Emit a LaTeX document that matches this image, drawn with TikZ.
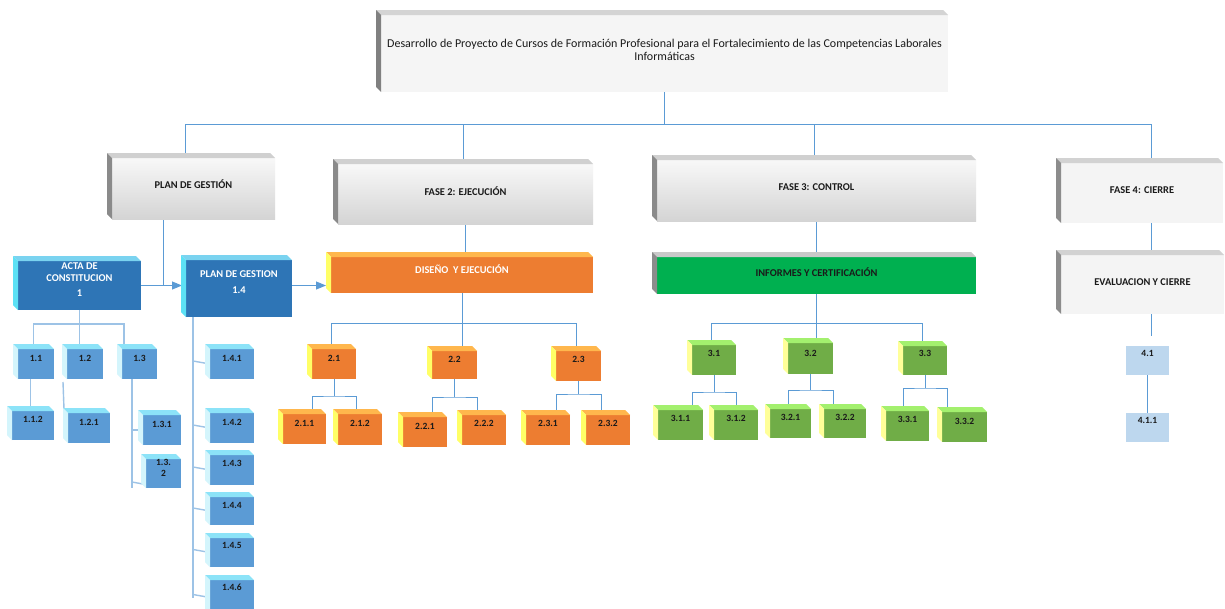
\documentclass[tikz,border=0pt]{standalone}
\usepackage{fontspec}
\setmainfont{Carlito}
\usetikzlibrary{arrows.meta,calc}
\pgfdeclarelayer{background}
\pgfsetlayers{background,main}
\definecolor{cline}{HTML}{5B9BD5}
\definecolor{lline}{HTML}{9DC3E6}
\definecolor{txt}{HTML}{1A1A1A}
\tikzset{
  cubebase/.style={rectangle,inner sep=0pt,outer sep=0pt,draw=none},
  conn/.style={draw=cline,line width=0.9pt},
  lconn/.style={draw=lline,line width=1.4pt},
  arr/.style={-{Triangle[length=10pt,width=8pt]}},
  bigfont/.style={font=\fontsize{10.4}{11.5}\selectfont\bfseries,align=center},
  smallfont/.style={font=\fontsize{9.5}{11}\selectfont\bfseries,align=center,text=txt},
  root front/.style={fill={rgb,255:red,245;green,245;blue,245}},
  root top/.style={fill={rgb,255:red,212;green,212;blue,212}},
  root side/.style={fill={rgb,255:red,128;green,128;blue,128}},
  root text/.style={font=\fontsize{12}{13}\selectfont,align=center,text=txt},
  gray front/.style={top color={rgb,255:red,248;green,248;blue,248},bottom color={rgb,255:red,212;green,212;blue,212}},
  gray top/.style={fill={rgb,255:red,208;green,208;blue,208}},
  gray side/.style={fill={rgb,255:red,138;green,138;blue,138}},
  gray text/.style={bigfont,text=txt},
  flat front/.style={fill={rgb,255:red,244;green,244;blue,244}},
  flat top/.style={fill={rgb,255:red,210;green,210;blue,210}},
  flat side/.style={fill={rgb,255:red,140;green,140;blue,140}},
  flat text/.style={bigfont,text=txt},
  bigblue front/.style={fill={rgb,255:red,46;green,117;blue,182}},
  bigblue top/.style={fill={rgb,255:red,122;green,211;blue,240}},
  bigblue side/.style={fill={rgb,255:red,92;green,225;blue,245}},
  bigblue text/.style={bigfont,text=white},
  blue front/.style={fill={rgb,255:red,91;green,155;blue,213}},
  blue top/.style={fill={rgb,255:red,140;green,227;blue,248}},
  blue side/.style={fill={rgb,255:red,212;green,245;blue,252}},
  blue text/.style={smallfont},
  bigorange front/.style={fill={rgb,255:red,237;green,125;blue,49}},
  bigorange top/.style={fill={rgb,255:red,255;green,183;blue,77}},
  bigorange side/.style={fill={rgb,255:red,255;green,255;blue,102}},
  bigorange text/.style={bigfont,text=white},
  orange front/.style={fill={rgb,255:red,237;green,125;blue,49}},
  orange top/.style={fill={rgb,255:red,255;green,183;blue,77}},
  orange side/.style={fill={rgb,255:red,255;green,255;blue,102}},
  orange text/.style={smallfont},
  biggreen front/.style={fill={rgb,255:red,0;green,176;blue,80}},
  biggreen top/.style={fill={rgb,255:red,201;green,201;blue,201}},
  biggreen side/.style={fill={rgb,255:red,140;green,140;blue,140}},
  biggreen text/.style={bigfont,text=txt},
  green front/.style={fill={rgb,255:red,112;green,173;blue,71}},
  green top/.style={fill={rgb,255:red,163;green,240;blue,110}},
  green side/.style={fill={rgb,255:red,255;green,255;blue,153}},
  green text/.style={smallfont},
  light box/.style={cubebase,fill={rgb,255:red,189;green,215;blue,238}},
}
\newcommand{\cubebox}[8]{%
  \node[cubebase,#6 front,minimum width={(#4-#2)*1pt},minimum height={(#5-#3)*1pt}] (#1) at ({(#2+#4)/2},{(#3+#5)/2}) {};
  \fill[#6 top] (#1.north west) -- ++(-5,-5) -- ([shift={(-5,-5)}]#1.north east) -- (#1.north east) -- cycle;
  \fill[#6 side] (#1.north west) -- ++(-5,-5) -- ([shift={(-5,-5)}]#1.south west) -- (#1.south west) -- cycle;
  \coordinate (#1-top) at ([shift={(-2.5,-5)}]#1.north);
  \node[#6 text] (#1-t) at ({(#2+#4)/2},#7) {#8};
}
\newcommand{\flatbox}[7]{%
  \node[light box,minimum width={(#4-#2)*1pt},minimum height={(#5-#3)*1pt}] (#1) at ({(#2+#4)/2},{(#3+#5)/2}) {};
  \node[smallfont] (#1-t) at ({(#2+#4)/2},#6) {#7};
}
\newcommand{\fork}[4]{%
  \draw[conn] (#1.south) -- ++(0,#4) coordinate (#1-f);
  \draw[conn] (#1.south west |- #2.north) |- (#1-f) -| (#1.south east |- #3.north);
}
\begin{document}
\begin{tikzpicture}[x=1pt,y=-1pt]
\useasboundingbox (0,0) rectangle (1225,608);
% level 0 and 1
\cubebox{root}{381}{15}{948}{92}{root}{50}{Desarrollo de Proyecto de Cursos de Formación Profesional para el Fortalecimiento de las Competencias Laborales\\Informáticas}
\cubebox{pg}{112}{158}{275}{219}{gray}{184}{PLAN DE GESTIÓN}
\cubebox{f2}{338}{164}{593}{224}{gray}{191}{FASE 2: EJECUCIÓN}
\cubebox{f3}{657}{160}{976}{221}{gray}{187}{FASE 3: CONTROL}
\cubebox{f4}{1061}{163}{1223}{223}{flat}{190}{FASE 4: CIERRE}
% level 2
\cubebox{acta}{18}{261}{141}{310}{bigblue}{280}{ACTA DE\\CONSTITUCION\\[4pt]1}
\cubebox{pgb}{186}{260}{292}{317}{bigblue}{282}{PLAN DE GESTION\\[5pt]1.4}
\cubebox{dis}{331}{257}{593}{293}{bigorange}{269}{DISEÑO\ \ Y EJECUCIÓN}
\cubebox{inf}{657}{257}{976}{294}{biggreen}{272}{INFORMES Y CERTIFICACIÓN}
\cubebox{eval}{1061}{255}{1224}{314}{flat}{282}{EVALUACION Y CIERRE}
% blue group
\cubebox{n11}{18}{349}{54}{379}{blue}{358}{1.1}
\cubebox{n12}{67}{349}{103}{379}{blue}{358}{1.2}
\cubebox{n13}{122}{349}{157}{379}{blue}{358}{1.3}
\cubebox{n112}{12}{411}{54}{440}{blue}{419}{1.1.2}
\cubebox{n121}{68}{413}{110}{443}{blue}{422}{1.2.1}
\cubebox{n131}{143}{415}{181}{445}{blue}{424}{1.3.1}
\cubebox{n132}{146}{459}{181}{488}{blue}{467.5}{1.3.\\2}
\cubebox{n141}{210}{349}{254}{379}{blue}{358}{1.4.1}
\cubebox{n142}{210}{413}{254}{443}{blue}{422}{1.4.2}
\cubebox{n143}{210}{455}{254}{485}{blue}{463}{1.4.3}
\cubebox{n144}{210}{497}{254}{525}{blue}{505}{1.4.4}
\cubebox{n145}{210}{538}{254}{567}{blue}{545}{1.4.5}
\cubebox{n146}{210}{580}{254}{615}{blue}{587}{1.4.6}
% orange group
\cubebox{n21}{312}{349}{356}{379}{orange}{358}{2.1}
\cubebox{n22}{432}{351}{477}{379}{orange}{359}{2.2}
\cubebox{n23}{556}{351}{601}{381}{orange}{359}{2.3}
\cubebox{n211}{283}{414}{326}{444}{orange}{423}{2.1.1}
\cubebox{n212}{338}{414}{382}{445}{orange}{423}{2.1.2}
\cubebox{n221}{403}{417}{447}{447}{orange}{426}{2.2.1}
\cubebox{n222}{462}{415}{506}{445}{orange}{423}{2.2.2}
\cubebox{n231}{526}{415}{570}{445}{orange}{423}{2.3.1}
\cubebox{n232}{586}{415}{630}{445}{orange}{423}{2.3.2}
% green group
\cubebox{n31}{692}{345}{736}{375}{green}{353}{3.1}
\cubebox{n32}{788}{343}{833}{374}{green}{353}{3.2}
\cubebox{n33}{903}{346}{947}{375}{green}{353}{3.3}
\cubebox{n311}{658}{410}{703}{440}{green}{418}{3.1.1}
\cubebox{n312}{714}{410}{758}{440}{green}{418}{3.1.2}
\cubebox{n321}{770}{409}{811}{438}{green}{417}{3.2.1}
\cubebox{n322}{824}{409}{866}{438}{green}{417}{3.2.2}
\cubebox{n331}{886}{411}{929}{441}{green}{419}{3.3.1}
\cubebox{n332}{942}{412}{987}{442}{green}{421}{3.3.2}
% phase 4 group
\flatbox{n41}{1126}{346}{1169}{375}{353}{4.1}
\flatbox{n411}{1126}{413}{1169}{442}{420}{4.1.1}
\begin{pgfonlayer}{background}
\fill[white] (0,0) rectangle (1225,608);
% top bus
\coordinate (b0) at (0,124);
\draw[conn] (root.south) -- (root.south |- b0);
\coordinate (pgd) at ([xshift=-6pt]pg-top);
\coordinate (f4d) at ([xshift=12pt]f4-top);
\draw[conn] (pgd) -- (pgd |- b0) -- (f4d |- b0) -- (f4d);
\draw[conn] (f2-top |- b0) -- (f2-top);
\draw[conn] (f3-top |- b0) -- (f3-top);
% phase 1
\coordinate (pgv) at ([xshift=-30pt]pg.south);
\draw[conn] (pgv) -- (pgv |- acta.east);
\coordinate (pgbl) at ([xshift=-4pt]pgb.west);
\coordinate (disl) at ([xshift=-5pt]dis.west);
\draw[conn,arr] (acta.east) -- (acta.east -| pgbl);
\draw[conn,arr] (pgb.east |- acta.east) -- (acta.east -| disl);
\coordinate (bA) at (0,324);
\coordinate (d13) at ([xshift=-13pt]n13-top);
\draw[lconn] (acta.south) -- (acta.south |- n12-top);
\draw[lconn] (n11-top) -- (n11-top |- bA) -- (d13 |- bA) -- (d13);
\draw[lconn] (n112-top |- n11.south) -- (n112-top);
\draw[lconn] ([shift={(-4,3)}]n12.south west) -- ([shift={(-4,-4)}]n121.north west);
\coordinate (v13) at ([xshift=-7.5pt]n13.south);
\draw[lconn] (v13) -- (v13 |- n132.south);
\draw[lconn] (v13 |- n131.west) -- ([xshift=-5pt]n131.west);
\draw[lconn] ([shift={(-14,-6)}]n132.south west) -- ([shift={(-3,-4)}]n132.south west);
\coordinate (v14) at ([xshift=7pt]pgb.south west);
\draw[lconn] (v14) -- (v14 |- n146.west);
\foreach \k in {1,...,6} {\draw[lconn] (v14 |- n14\k.west) ++(0,-3) -- (n14\k.west);}
% phase 2
\coordinate (bD) at (0,323);
\draw[conn] (f2.south) -- (f2.south |- dis-top);
\draw[conn] (dis.south) -- (dis.south |- n22-top);
\draw[conn] (n21-top) -- (n21-top |- bD) -- (n23-top |- bD) -- (n23-top);
\fork{n21}{n211}{n212}{17}
\fork{n22}{n221}{n222}{18}
\fork{n23}{n231}{n232}{13}
% phase 3
\draw[conn] (f3.south) -- (f3.south |- inf-top);
\draw[conn] (inf.south) -- (inf.south |- n32-top);
\draw[conn] (n31-top) -- (n31-top |- bD) -- (n33-top |- bD) -- (n33-top);
\fork{n31}{n311}{n312}{17}
\fork{n32}{n321}{n322}{16}
\fork{n33}{n331}{n332}{13}
% phase 4
\coordinate (f4v) at ([xshift=9pt]f4.south);
\draw[conn] (f4v) -- (f4v |- eval-top);
\coordinate (e41) at ([shift={(4,-10)}]n41.north);
\draw[conn] (eval.south -| e41) -- (e41);
\draw[conn] (n41.south) -- (n411.north);
\end{pgfonlayer}
\end{tikzpicture}
\end{document}
